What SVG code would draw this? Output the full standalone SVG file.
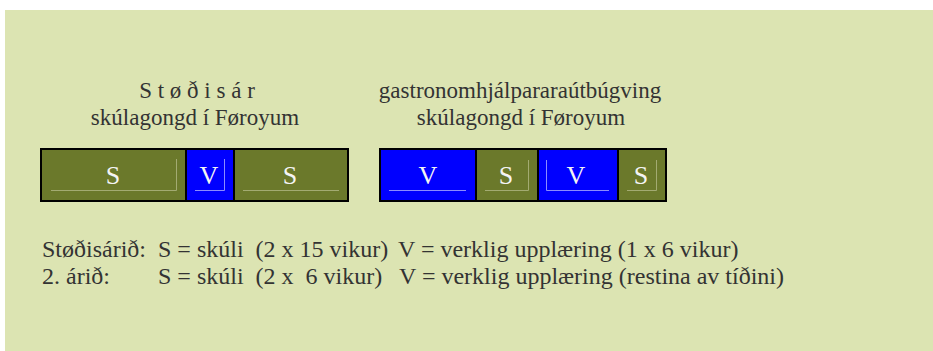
<svg xmlns="http://www.w3.org/2000/svg" width="933" height="351" viewBox="0 0 933 351">
<style>
.bg{fill:#DCE4B2}
.s{fill:#6B792B;stroke:#000;stroke-width:2}
.v{fill:#0000FF;stroke:#000;stroke-width:2}
.ls{stroke:#A3AB72;stroke-width:1;fill:none}
.lv{stroke:#8C8CFF;stroke-width:1;fill:none}
.lbl{font-size:26px;fill:#F4F4F4;text-anchor:middle}
.ttl{font-size:23px;fill:#333;text-anchor:middle}
.leg{font-size:24px;fill:#333;white-space:pre}
</style>
<rect class="bg" x="5" y="10" width="928" height="341"/>
<g font-family="Liberation Serif, Times New Roman, Times, Noto Serif, DejaVu Serif, FreeSerif, serif">
<g id="title-left">
<text class="ttl" x="197" y="98">S t ø ð i s á r</text>
<text class="ttl" x="195" y="125">skúlagongd í Føroyum</text>
</g>
<g id="title-right">
<text class="ttl" x="520" y="98">gastronomhjálpararaútbúgving</text>
<text class="ttl" x="521" y="125">skúlagongd í Føroyum</text>
</g>
<g id="l-s1"><rect class="s" x="41" y="149" width="145" height="52"/><path class="ls" d="M51 190.5H176.5V159"/><text class="lbl" x="113" y="184">S</text></g>
<g id="l-v"><rect class="v" x="186" y="149" width="48" height="52"/><path class="lv" d="M195 190.5H224.5V159"/><text class="lbl" x="209" y="184">V</text></g>
<g id="l-s2"><rect class="s" x="234" y="149" width="114" height="52"/><path class="ls" d="M243 190.5H339"/><text class="lbl" x="290" y="184">S</text></g>
<g id="r-v1"><rect class="v" x="380" y="149" width="96" height="52"/><path class="lv" d="M389 190.5H466"/><text class="lbl" x="428" y="184">V</text></g>
<g id="r-s1"><rect class="s" x="476" y="149" width="62" height="52"/><path class="ls" d="M485 190.5H528.5V160"/><text class="lbl" x="506" y="184">S</text></g>
<g id="r-v2"><rect class="v" x="538" y="149" width="80" height="52"/><path class="lv" d="M609 190.5H546.5V160"/><text class="lbl" x="576" y="184">V</text></g>
<g id="r-s2"><rect class="s" x="618" y="149" width="48" height="52"/><path class="ls" d="M627 190.5H656.5V160"/><text class="lbl" x="641" y="184">S</text></g>
<g id="legend">
<text class="leg" y="257" xml:space="preserve"><tspan x="42">Støðisárið:</tspan><tspan x="158">S = skúli  (2 x 15 vikur)</tspan><tspan x="398">V = verklig upplæring (1 x 6 vikur)</tspan></text>
<text class="leg" y="284" xml:space="preserve"><tspan x="42">2. árið:</tspan><tspan x="158">S = skúli  (2 x  6 vikur)</tspan><tspan x="399">V = verklig upplæring (restina av tíðini)</tspan></text>
</g>
</g>
</svg>
